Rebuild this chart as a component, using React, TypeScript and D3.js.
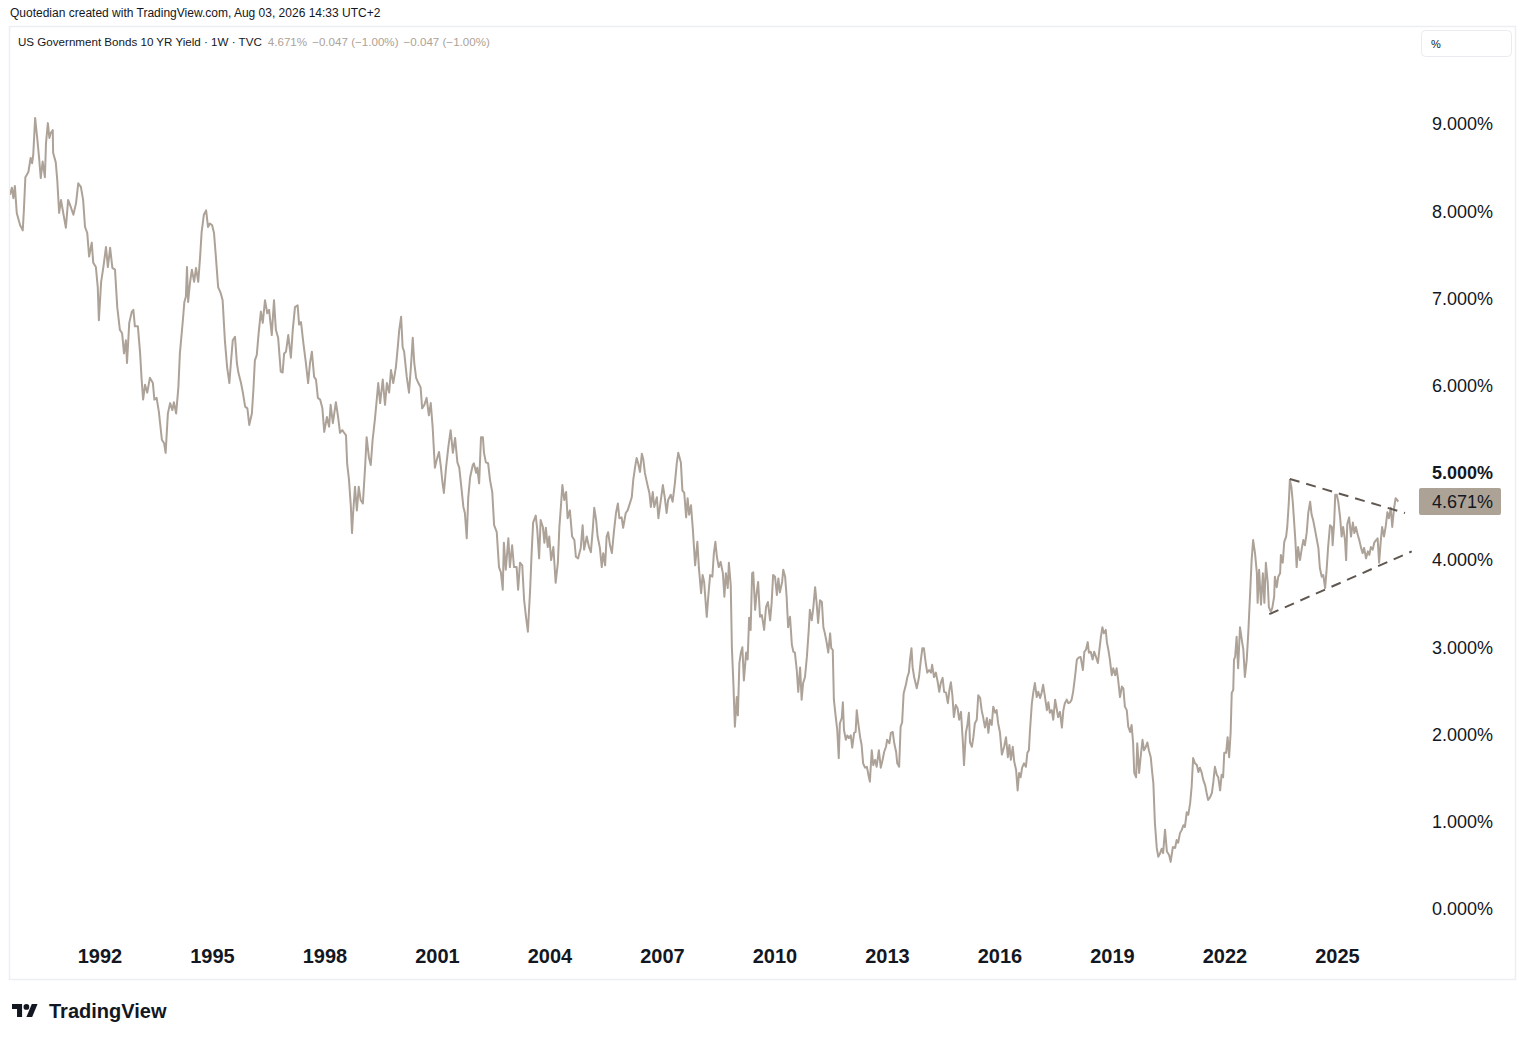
import React from 'react';
import * as d3 from 'd3';

// weekly closes, [decimal year, yield %]
const yields1990s: [number, number][] = [
  [1989.60,8.19],[1989.65,8.27],[1989.69,8.15],[1989.73,8.29],[1989.78,7.98],[1989.87,7.84],[1989.94,7.78],[1989.97,8.01],
  [1990.01,8.39],[1990.09,8.45],[1990.15,8.61],[1990.19,8.55],[1990.22,8.65],[1990.27,9.07],[1990.33,8.82],[1990.38,8.59],
  [1990.42,8.38],[1990.47,8.57],[1990.53,8.39],[1990.56,8.78],[1990.61,9.01],[1990.65,8.84],[1990.69,8.90],[1990.74,8.93],
  [1990.75,8.67],[1990.82,8.56],[1990.86,8.36],[1990.91,7.98],[1990.96,8.13],[1991.02,7.98],[1991.09,7.81],[1991.15,8.13],
  [1991.22,8.05],[1991.29,7.96],[1991.36,8.09],[1991.42,8.32],[1991.49,8.28],[1991.55,8.13],[1991.60,7.82],[1991.66,7.75],
  [1991.71,7.48],[1991.78,7.64],[1991.82,7.41],[1991.89,7.36],[1991.94,7.13],[1991.97,6.75],[1992.03,7.19],[1992.09,7.36],
  [1992.16,7.59],[1992.21,7.36],[1992.27,7.58],[1992.33,7.35],[1992.40,7.33],[1992.46,6.90],[1992.53,6.64],[1992.59,6.60],
  [1992.64,6.37],[1992.69,6.52],[1992.72,6.26],[1992.78,6.72],[1992.85,6.85],[1992.89,6.87],[1992.93,6.68],[1993.01,6.68],
  [1993.07,6.37],[1993.11,6.07],[1993.15,5.84],[1993.20,6.01],[1993.26,5.92],[1993.33,6.09],[1993.41,6.03],[1993.45,5.84],
  [1993.51,5.86],[1993.57,5.70],[1993.65,5.38],[1993.71,5.34],[1993.75,5.23],[1993.81,5.68],[1993.87,5.80],[1993.93,5.72],
  [1993.97,5.81],[1994.03,5.68],[1994.09,5.98],[1994.13,6.37],[1994.21,6.75],[1994.25,6.96],[1994.29,7.02],[1994.32,7.36],
  [1994.35,6.96],[1994.40,7.18],[1994.45,7.33],[1994.51,7.19],[1994.56,7.35],[1994.62,7.19],[1994.67,7.48],[1994.71,7.76],
  [1994.77,7.96],[1994.83,8.01],[1994.88,7.82],[1994.93,7.86],[1994.99,7.84],[1995.04,7.75],[1995.09,7.48],[1995.15,7.13],
  [1995.22,7.06],[1995.27,6.98],[1995.33,6.52],[1995.39,6.21],[1995.45,6.03],[1995.49,6.26],[1995.54,6.52],[1995.60,6.56],
  [1995.65,6.26],[1995.69,6.15],[1995.76,6.03],[1995.81,5.92],[1995.87,5.76],[1995.93,5.74],[1995.98,5.55],[1996.05,5.68],
  [1996.09,5.95],[1996.13,6.29],[1996.18,6.35],[1996.23,6.60],[1996.29,6.85],[1996.34,6.72],[1996.40,6.98],[1996.46,6.83],
  [1996.51,6.87],[1996.58,6.58],[1996.64,6.98],[1996.69,6.64],[1996.75,6.55],[1996.82,6.16],[1996.87,6.15],[1996.91,6.37],
  [1996.96,6.39],[1997.02,6.58],[1997.09,6.32],[1997.14,6.64],[1997.20,6.90],[1997.27,6.92],[1997.31,6.70],[1997.36,6.73],
  [1997.42,6.50],[1997.49,6.26],[1997.55,6.03],[1997.60,6.26],[1997.65,6.39],[1997.71,6.10],[1997.76,6.07],[1997.81,5.86],
  [1997.87,5.84],[1997.93,5.74],[1997.98,5.47],[1998.05,5.64],[1998.11,5.53],[1998.15,5.78],[1998.21,5.57],[1998.29,5.81],
  [1998.35,5.64],[1998.40,5.46],[1998.46,5.49],[1998.51,5.46],[1998.56,5.43],[1998.59,5.11],[1998.64,4.92],[1998.69,4.61],
  [1998.72,4.31],[1998.75,4.54],[1998.80,4.84],[1998.85,4.57],[1998.90,4.84],[1998.95,4.69],[1999.01,4.65],[1999.07,5.07],
  [1999.11,5.41],[1999.17,5.18],[1999.22,5.09],[1999.27,5.38],[1999.33,5.61],[1999.38,5.84],[1999.42,6.03],[1999.47,5.80],
  [1999.54,6.07],[1999.60,5.78],[1999.65,6.03],[1999.71,5.92],[1999.76,6.18],[1999.82,6.03],[1999.89,6.21],[1999.94,6.44],
  [1999.98,6.64],
];

const yields2000s: [number, number][] = [
  [2000.03,6.79],[2000.07,6.44],[2000.11,6.39],[2000.18,6.10],[2000.24,5.92],[2000.29,6.21],[2000.34,6.55],[2000.38,6.26],
  [2000.43,6.09],[2000.49,6.03],[2000.55,5.98],[2000.59,5.74],[2000.65,5.78],[2000.71,5.86],[2000.77,5.66],[2000.82,5.80],
  [2000.87,5.53],[2000.93,5.06],[2000.98,5.15],[2001.04,5.24],[2001.09,5.07],[2001.13,4.90],[2001.17,4.77],[2001.23,5.07],
  [2001.29,5.30],[2001.35,5.49],[2001.41,5.23],[2001.47,5.40],[2001.53,5.12],[2001.58,5.06],[2001.63,4.86],[2001.69,4.61],
  [2001.73,4.54],[2001.78,4.25],[2001.82,4.72],[2001.87,4.95],[2001.94,5.09],[2001.97,5.11],[2002.03,5.00],[2002.06,5.06],
  [2002.11,4.88],[2002.16,5.41],[2002.21,5.41],[2002.24,5.23],[2002.29,5.12],[2002.35,5.11],[2002.40,4.92],[2002.46,4.78],
  [2002.51,4.40],[2002.58,4.32],[2002.64,3.92],[2002.69,3.86],[2002.74,3.66],[2002.77,4.20],[2002.82,3.89],[2002.89,4.25],
  [2002.93,3.92],[2002.99,4.17],[2003.04,3.92],[2003.11,3.92],[2003.15,3.66],[2003.20,3.97],[2003.26,3.94],[2003.31,3.54],
  [2003.36,3.35],[2003.41,3.18],[2003.47,3.66],[2003.51,4.08],[2003.55,4.43],[2003.62,4.51],[2003.66,4.35],[2003.71,4.02],
  [2003.75,4.46],[2003.81,4.38],[2003.85,4.20],[2003.89,4.37],[2003.94,4.15],[2003.98,4.27],[2004.03,4.00],[2004.09,4.15],
  [2004.15,3.74],[2004.21,3.97],[2004.25,4.38],[2004.29,4.61],[2004.33,4.86],[2004.38,4.69],[2004.43,4.78],[2004.47,4.48],
  [2004.53,4.57],[2004.59,4.27],[2004.65,4.23],[2004.69,4.04],[2004.75,4.02],[2004.82,4.14],[2004.87,4.40],[2004.91,4.12],
  [2004.98,4.27],[2005.04,4.15],[2005.09,4.09],[2005.14,4.35],[2005.18,4.60],[2005.23,4.46],[2005.27,4.27],[2005.33,4.14],
  [2005.38,3.92],[2005.42,4.08],[2005.47,3.94],[2005.51,4.27],[2005.55,4.32],[2005.60,4.17],[2005.65,4.08],[2005.71,4.35],
  [2005.76,4.54],[2005.81,4.65],[2005.85,4.48],[2005.91,4.49],[2005.95,4.37],[2006.02,4.54],[2006.07,4.57],[2006.13,4.65],
  [2006.18,4.72],[2006.22,4.92],[2006.27,5.07],[2006.31,5.17],[2006.35,5.11],[2006.40,5.01],[2006.45,5.22],[2006.49,5.15],
  [2006.53,5.00],[2006.59,4.88],[2006.65,4.77],[2006.69,4.61],[2006.74,4.78],[2006.78,4.61],[2006.85,4.72],[2006.89,4.48],
  [2006.95,4.67],[2007.01,4.86],[2007.06,4.72],[2007.11,4.54],[2007.15,4.69],[2007.22,4.75],[2007.27,4.67],[2007.33,4.88],
  [2007.38,5.11],[2007.42,5.23],[2007.49,5.12],[2007.53,4.80],[2007.58,4.77],[2007.63,4.49],[2007.67,4.71],[2007.71,4.52],
  [2007.76,4.63],[2007.81,4.35],[2007.87,3.94],[2007.93,4.21],[2007.97,3.91],[2008.03,3.62],[2008.07,3.83],[2008.11,3.75],
  [2008.18,3.35],[2008.22,3.58],[2008.27,3.83],[2008.33,3.81],[2008.37,4.08],[2008.41,4.21],[2008.45,4.04],[2008.50,3.92],
  [2008.55,3.98],[2008.61,3.85],[2008.65,3.58],[2008.69,3.85],[2008.74,3.68],[2008.77,3.97],[2008.82,3.71],[2008.85,3.00],
  [2008.89,2.59],[2008.93,2.09],[2008.98,2.43],[2009.01,2.22],[2009.05,2.82],[2009.09,2.94],[2009.13,3.00],[2009.17,2.62],
  [2009.23,2.94],[2009.27,2.86],[2009.31,3.34],[2009.35,3.20],[2009.39,3.85],[2009.42,3.86],[2009.47,3.43],[2009.51,3.62],
  [2009.55,3.75],[2009.60,3.35],[2009.65,3.37],[2009.71,3.20],[2009.76,3.46],[2009.81,3.52],[2009.87,3.31],[2009.91,3.51],
  [2009.95,3.83],
];

const yields2010s: [number, number][] = [
  [2010.00,3.81],[2010.05,3.60],[2010.09,3.79],[2010.13,3.63],[2010.19,3.75],[2010.22,3.89],[2010.27,3.81],[2010.31,3.58],
  [2010.35,3.23],[2010.40,3.35],[2010.45,3.03],[2010.49,2.95],[2010.53,2.94],[2010.58,2.74],[2010.62,2.49],[2010.67,2.77],
  [2010.71,2.40],[2010.75,2.59],[2010.80,2.66],[2010.85,2.89],[2010.90,3.20],[2010.93,3.43],[2010.98,3.31],[2011.02,3.45],
  [2011.07,3.69],[2011.11,3.51],[2011.15,3.28],[2011.20,3.54],[2011.25,3.52],[2011.29,3.23],[2011.33,3.16],[2011.38,3.05],
  [2011.42,2.94],[2011.47,3.16],[2011.50,2.99],[2011.54,2.97],[2011.57,2.40],[2011.62,2.20],[2011.66,2.05],[2011.70,1.73],
  [2011.73,2.13],[2011.78,2.19],[2011.81,2.37],[2011.84,2.05],[2011.89,1.94],[2011.93,1.99],[2011.97,1.96],[2012.02,1.99],
  [2012.06,1.85],[2012.11,2.02],[2012.15,2.03],[2012.18,2.28],[2012.22,2.13],[2012.27,1.97],[2012.31,1.88],[2012.35,1.67],
  [2012.40,1.62],[2012.45,1.63],[2012.49,1.54],[2012.53,1.46],[2012.58,1.82],[2012.62,1.65],[2012.67,1.71],[2012.71,1.63],
  [2012.77,1.82],[2012.82,1.62],[2012.87,1.71],[2012.91,1.80],[2012.96,1.86],[2012.99,1.94],[2013.05,1.90],[2013.09,2.02],
  [2013.14,2.03],[2013.18,1.90],[2013.23,1.80],[2013.26,1.67],[2013.31,1.63],[2013.35,2.09],[2013.39,2.14],[2013.43,2.47],
  [2013.49,2.57],[2013.53,2.66],[2013.57,2.71],[2013.60,2.86],[2013.64,2.99],[2013.67,2.77],[2013.71,2.66],[2013.78,2.53],
  [2013.84,2.66],[2013.89,2.86],[2013.93,2.99],[2013.97,2.99],[2014.02,2.82],[2014.06,2.71],[2014.11,2.74],[2014.16,2.71],
  [2014.19,2.80],[2014.24,2.66],[2014.29,2.71],[2014.34,2.60],[2014.38,2.49],[2014.42,2.59],[2014.47,2.65],[2014.51,2.49],
  [2014.56,2.48],[2014.61,2.36],[2014.65,2.51],[2014.69,2.60],[2014.73,2.45],[2014.77,2.20],[2014.82,2.34],[2014.87,2.30],
  [2014.91,2.17],[2014.96,2.26],[2015.01,1.91],[2015.04,1.65],[2015.09,2.02],[2015.13,2.11],[2015.17,2.25],[2015.20,1.91],
  [2015.25,1.86],[2015.29,1.97],[2015.33,2.13],[2015.38,2.17],[2015.42,2.45],[2015.47,2.42],[2015.51,2.28],[2015.55,2.20],
  [2015.60,2.08],[2015.65,2.19],[2015.69,2.02],[2015.73,2.17],[2015.78,2.11],[2015.82,2.32],[2015.87,2.25],[2015.91,2.28],
  [2015.95,2.13],[2016.00,2.02],[2016.05,1.77],[2016.11,1.86],[2016.16,1.97],[2016.21,1.74],[2016.25,1.88],[2016.29,1.71],
  [2016.34,1.86],[2016.38,1.69],[2016.43,1.59],[2016.47,1.36],[2016.51,1.56],[2016.55,1.51],[2016.59,1.62],[2016.64,1.67],
  [2016.69,1.63],[2016.73,1.79],[2016.77,1.82],[2016.80,2.05],[2016.85,2.36],[2016.89,2.49],[2016.93,2.59],[2016.98,2.43],
  [2017.02,2.49],[2017.07,2.42],[2017.11,2.48],[2017.15,2.57],[2017.20,2.43],[2017.25,2.28],[2017.29,2.37],[2017.33,2.25],
  [2017.38,2.28],[2017.42,2.17],[2017.47,2.40],[2017.51,2.30],[2017.55,2.20],[2017.60,2.26],[2017.65,2.08],[2017.69,2.28],
  [2017.73,2.36],[2017.78,2.40],[2017.82,2.36],[2017.87,2.37],[2017.91,2.40],[2017.95,2.49],[2018.00,2.66],[2018.05,2.86],
  [2018.09,2.88],[2018.15,2.89],[2018.21,2.74],[2018.25,2.95],[2018.29,2.97],[2018.34,3.06],[2018.37,2.94],[2018.42,2.95],
  [2018.47,2.86],[2018.51,2.95],[2018.56,2.89],[2018.61,2.82],[2018.65,2.97],[2018.69,3.12],[2018.73,3.23],[2018.77,3.16],
  [2018.82,3.20],[2018.85,3.06],[2018.89,2.97],[2018.93,2.86],[2018.98,2.68],[2019.02,2.76],[2019.07,2.68],[2019.11,2.76],
  [2019.15,2.63],[2019.20,2.43],[2019.25,2.55],[2019.29,2.53],[2019.33,2.32],[2019.38,2.28],[2019.42,2.09],[2019.47,2.03],
  [2019.51,2.11],[2019.55,1.90],[2019.58,1.56],[2019.63,1.51],[2019.66,1.90],[2019.71,1.56],[2019.75,1.74],[2019.80,1.94],
  [2019.84,1.82],[2019.89,1.86],[2019.93,1.91],[2019.97,1.82],
];

const yields2020s: [number, number][] = [
  [2020.02,1.74],[2020.06,1.56],[2020.09,1.44],[2020.13,0.99],[2020.18,0.70],[2020.22,0.60],[2020.27,0.64],[2020.31,0.69],
  [2020.35,0.64],[2020.40,0.91],[2020.45,0.66],[2020.51,0.62],[2020.55,0.54],[2020.61,0.71],[2020.67,0.70],[2020.71,0.79],
  [2020.75,0.76],[2020.80,0.87],[2020.85,0.91],[2020.89,0.96],[2020.93,0.94],[2020.98,1.11],[2021.02,1.08],[2021.07,1.21],
  [2021.11,1.40],[2021.15,1.73],[2021.20,1.67],[2021.25,1.65],[2021.29,1.57],[2021.33,1.62],[2021.38,1.56],[2021.42,1.48],
  [2021.47,1.42],[2021.51,1.33],[2021.55,1.25],[2021.60,1.28],[2021.65,1.33],[2021.69,1.46],[2021.73,1.63],[2021.78,1.54],
  [2021.82,1.51],[2021.87,1.36],[2021.91,1.54],[2021.95,1.51],[2021.98,1.79],[2022.03,1.79],[2022.07,1.97],[2022.11,1.74],
  [2022.15,2.02],[2022.18,2.48],[2022.22,2.51],[2022.24,2.86],[2022.27,2.89],[2022.31,3.12],[2022.35,2.76],[2022.40,3.23],
  [2022.45,3.08],[2022.49,2.97],[2022.53,2.66],[2022.58,2.86],[2022.62,3.16],[2022.67,3.62],[2022.71,4.00],[2022.75,4.23],
  [2022.80,4.08],[2022.85,3.85],[2022.87,3.51],[2022.91,3.89],[2022.96,3.49],[2023.01,3.85],[2023.05,3.51],[2023.09,3.97],
  [2023.14,3.74],[2023.17,3.46],[2023.22,3.41],[2023.26,3.45],[2023.31,3.58],[2023.33,3.81],[2023.38,3.69],[2023.42,3.81],
  [2023.47,3.85],[2023.49,4.06],[2023.54,3.97],[2023.58,4.21],[2023.63,4.27],[2023.66,4.38],[2023.70,4.65],[2023.73,4.92],
  [2023.77,4.84],[2023.81,4.65],[2023.84,4.46],[2023.88,4.20],[2023.91,3.92],[2023.95,4.15],[2024.00,4.00],[2024.05,4.14],
  [2024.09,4.23],[2024.13,4.17],[2024.18,4.32],[2024.22,4.54],[2024.27,4.67],[2024.31,4.52],[2024.35,4.46],[2024.40,4.35],
  [2024.45,4.23],[2024.49,4.14],[2024.53,3.91],[2024.58,3.81],[2024.62,3.83],[2024.67,3.68],[2024.71,3.89],[2024.75,4.15],
  [2024.80,4.40],[2024.85,4.38],[2024.87,4.17],[2024.91,4.42],[2024.94,4.75],[2024.98,4.75],[2025.02,4.67],[2025.07,4.49],
  [2025.11,4.27],[2025.15,4.38],[2025.20,4.23],[2025.23,4.00],[2025.26,4.41],[2025.31,4.49],[2025.36,4.27],[2025.41,4.43],
  [2025.45,4.31],[2025.49,4.38],[2025.54,4.29],[2025.58,4.23],[2025.63,4.14],[2025.67,4.08],[2025.71,4.14],[2025.76,4.02],
  [2025.81,4.10],[2025.85,4.06],[2025.89,4.15],[2025.94,4.12],[2025.98,4.20],[2026.03,4.23],[2026.07,4.25],[2026.11,3.97],
  [2026.15,4.20],[2026.19,4.38],[2026.24,4.27],[2026.29,4.40],[2026.33,4.55],[2026.37,4.48],[2026.42,4.60],[2026.46,4.38],
  [2026.51,4.60],[2026.55,4.71],[2026.59,4.69],[2026.62,4.671],
];

// hand drawn triangle (dashed trend lines)
const upperTrend: [number, number][] = [[2023.73, 4.93], [2026.80, 4.54]];
const lowerTrend: [number, number][] = [[2023.18, 3.38], [2026.98, 4.10]];

const yearTicks = [1992, 1995, 1998, 2001, 2004, 2007, 2010, 2013, 2016, 2019, 2022, 2025];
const priceTicks = [0, 1, 2, 3, 4, 5, 6, 7, 8, 9];
const lastValue = 4.671;

const FONT = '"Liberation Sans", Arial, sans-serif';
const INK = '#131722';
const LINE = '#ada298';

const App = () => {
  const width = 1526;
  const height = 1040;

  const x = d3.scaleLinear().domain([1992, 2025]).range([100, 1337.5]);
  const y = d3.scaleLinear().domain([0, 9]).range([909, 124]);

  const series = [...yields1990s, ...yields2000s, ...yields2010s, ...yields2020s];
  const line = d3.line<[number, number]>()
    .x(d => x(d[0]))
    .y(d => y(d[1]));

  const fmt = (v: number) => d3.format('.3f')(v) + '%';

  return (
    <svg width={width} height={height} style={{ position: 'absolute', left: 0, top: 0, background: '#fff' }}
      fontFamily={FONT}>
      <rect width={width} height={height} fill="#ffffff" />

      {/* header */}
      <text x={10} y={17} fontSize={12} fill={INK}>Quotedian created with TradingView.com, Aug 03, 2026 14:33 UTC+2</text>
      <rect x={9.5} y={26.5} width={1506} height={953} fill="none" stroke="#eceef2" strokeWidth={1.5} />
      <text x={18} y={46} fontSize={11.6} fill={INK}>
        US Government Bonds 10 YR Yield · 1W · TVC
        <tspan fill={LINE} dx={6}>4.671%</tspan>
        <tspan fill={LINE} dx={5}>−0.047 (−1.00%)</tspan>
        <tspan fill={LINE} dx={5}>−0.047 (−1.00%)</tspan>
      </text>

      {/* scale mode button */}
      <rect x={1421.5} y={30.5} width={90} height={26} rx={4} fill="#fff" stroke="#e9ebef" />
      <text x={1431} y={48} fontSize={11} fill={INK}>%</text>

      <defs>
        <clipPath id="plot">
          <rect x={10} y={28} width={1410} height={950} />
        </clipPath>
      </defs>

      <g clipPath="url(#plot)">
        <path d={line(series) ?? ''} fill="none" stroke={LINE} strokeWidth={2} strokeLinejoin="round" />
        {[upperTrend, lowerTrend].map((t, i) => (
          <path key={i} d={line(t) ?? ''} fill="none" stroke="#5f5750" strokeWidth={2} strokeDasharray="10 7" />
        ))}
      </g>

      {/* price axis */}
      {priceTicks.map(v => (
        <text key={v} x={1432} y={y(v)} dy="0.35em" fontSize={18} fill={INK}
          fontWeight={v === 5 ? 'bold' : 'normal'}>{fmt(v)}</text>
      ))}
      <rect x={1419} y={y(lastValue) - 13.5} width={82} height={27} rx={2} fill="#aca296" />
      <text x={1432} y={y(lastValue)} dy="0.35em" fontSize={18} fill={INK}>{fmt(lastValue)}</text>

      {/* time axis */}
      {yearTicks.map(t => (
        <text key={t} x={x(t)} y={956} dy="0.35em" textAnchor="middle" fontSize={20} fontWeight="bold" fill={INK}>{t}</text>
      ))}

      {/* logo */}
      <g transform="translate(12,1001.2) scale(0.72)" fill={INK}>
        <path d="M14 22H7V11H0V4h14v18z" />
        <circle cx={20} cy={8} r={4} />
        <path d="M28 22h-8l7.5-18h8L28 22z" />
      </g>
      <text x={49} y={1018} fontSize={20} fontWeight="bold" fill={INK}>TradingView</text>
    </svg>
  );
};

export default App;
